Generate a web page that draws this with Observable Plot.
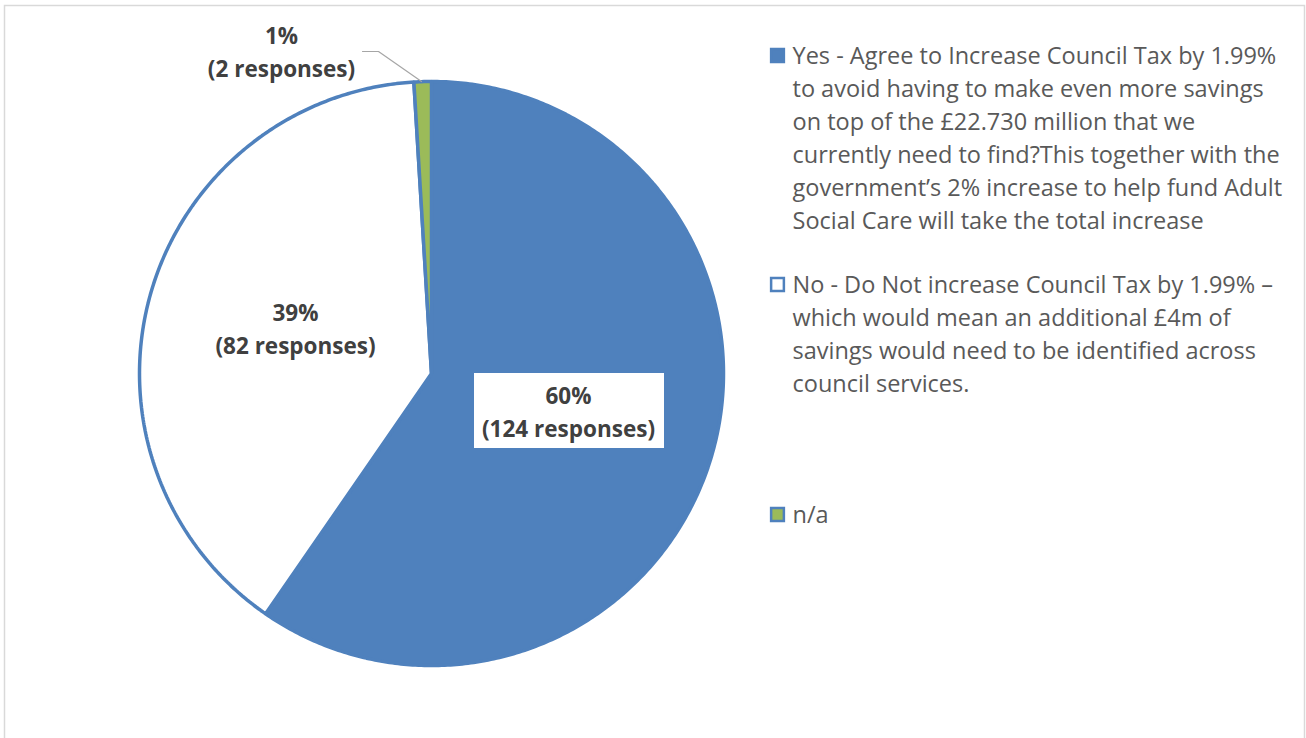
<!DOCTYPE html>
<html>
<head>
<meta charset="utf-8">
<script src="https://cdn.jsdelivr.net/npm/d3@7"></script>
<script src="https://cdn.jsdelivr.net/npm/@observablehq/plot@0.6"></script>
<style>
  html, body { margin: 0; padding: 0; background: #fff; }
  #chart svg { display: block; }
</style>
</head>
<body>
<div id="chart"></div>
<script>
// ---- data ----
const categories = ["Yes", "No", "n/a"];
const responses = [124, 82, 2];
const percentLabels = ["60%", "39%", "1%"];
const countLabels = ["(124 responses)", "(82 responses)", "(2 responses)"];
const legendLabels = [
  "Yes - Agree to Increase Council Tax by 1.99%\nto avoid having to make even more savings\non top of the £22.730 million that we\ncurrently need to find?This together with the\ngovernment’s 2% increase to help fund Adult\nSocial Care will take the total increase",
  "No - Do Not increase Council Tax by 1.99% –\nwhich would mean an additional £4m of\nsavings would need to be identified across\ncouncil services.",
  "n/a"
];
const colors = ["#4f81bd", "#ffffff", "#9bbb59"];

// ---- layout ----
const W = 1306, H = 738;
const cx = 431, cy = 373, R = 292;
const labelPos = [[568, 409], [295, 326], [281, 49.5]];
const legendY = [55, 284, 514];
const legendX = 792;

const table = categories.map((c, i) => ({
  cat: c, value: responses[i], color: colors[i],
  label: percentLabels[i] + "\n" + countLabels[i],
  legend: legendLabels[i], lx: labelPos[i][0], ly: labelPos[i][1], gy: legendY[i]
}));

const arcs = d3.pie().sort(null).value(d => d.value).startAngle(0).endAngle(2 * Math.PI)(table);
const slicePts = [];
arcs.forEach(a => {
  slicePts.push({cat: a.data.cat, color: a.data.color, x: cx, y: cy});
  const n = Math.max(4, Math.ceil((a.endAngle - a.startAngle) / 0.01));
  for (let k = 0; k <= n; k++) {
    const t = a.startAngle + (a.endAngle - a.startAngle) * k / n;
    slicePts.push({cat: a.data.cat, color: a.data.color, x: cx + R * Math.sin(t), y: cy - R * Math.cos(t)});
  }
});

const leader = [{x: 362, y: 51}, {x: 378, y: 51}, {x: 421, y: 81}];

const fontMain = "'Open Sans', Lato, sans-serif";

const plot = Plot.plot({
  width: W, height: H,
  margin: 0,
  x: {domain: [0, W], range: [0, W], axis: null},
  y: {domain: [0, H], range: [0, H], axis: null},
  style: {background: "#fff", fontFamily: fontMain},
  marks: [
    Plot.frame({stroke: "#d9d9d9", strokeWidth: 1.5, insetLeft: 4, insetRight: 2, insetTop: 5, insetBottom: -20}),
    Plot.line(slicePts, {x: "x", y: "y", z: "cat", fill: "color", stroke: "#4f81bd", strokeWidth: 3.5, curve: "linear-closed", strokeLinejoin: "miter"}),
    Plot.line(leader, {x: "x", y: "y", stroke: "#a6a6a6", strokeWidth: 1.2}),
    Plot.rect(table.filter(d => d.cat === "Yes"), {x1: 474, x2: 664, y1: 373, y2: 448, fill: "#fff"}),
    Plot.text(table, {x: "lx", y: "ly", text: "label", fill: "#404040", fontWeight: "bold", fontSize: 22.5, lineHeight: 1.47, textAnchor: "middle"}),
    Plot.dot(table, {x: 777, y: "gy", symbol: "square", r: 7.2, fill: "color", stroke: "#4f81bd", strokeWidth: 2.5}),
    Plot.text(table, {x: legendX, y: d => d.gy - 15.5, text: "legend", fill: "#595959", fontSize: 23.5, lineHeight: 1.41, textAnchor: "start", lineAnchor: "top"})
  ]
});
document.getElementById("chart").appendChild(plot);
</script>
</body>
</html>
